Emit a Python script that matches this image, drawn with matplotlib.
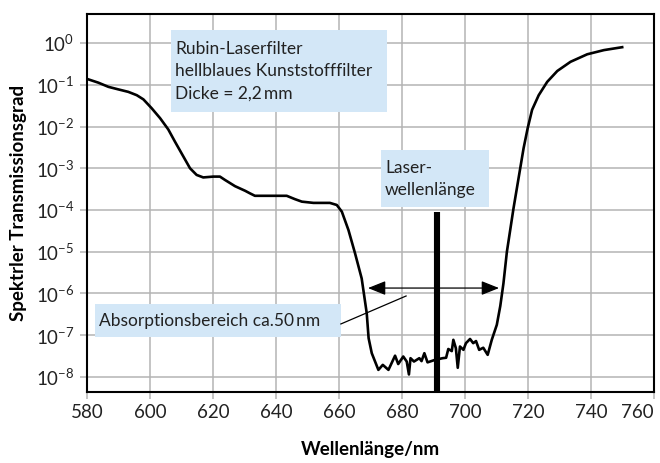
import numpy as np
import matplotlib.pyplot as plt
from matplotlib.patches import FancyArrowPatch

plt.rcParams['font.family'] = ['Lato', 'DejaVu Sans']
plt.rcParams['mathtext.default'] = 'regular'

# Wellenlaenge [nm] und log10 der Transmission
wavelength = [580, 583.6, 586.8, 589.9, 593.1, 595.8, 597.9, 600.5, 603.2, 605.8,
              607.9, 610.6, 612.7, 614.8, 616.9, 620.1, 622.2, 623.8, 627, 630.2,
              631.7, 633.3, 639.2, 643.4, 646, 648.2, 651.9, 657.1, 659.3, 660.9,
              663, 665.1, 667.2, 668.8, 669.4, 670.4, 672.5, 673.9, 675.7, 677.8,
              678.8, 680.4, 681.5, 682.2, 682.7, 683.8, 685.5, 686.2, 687.1, 688.1,
              690.5, 692.9, 694.0, 694.7, 695.8, 696.3, 697.1, 697.7, 698.4, 699.5,
              700.3, 701.6, 702.6, 703.5, 704.5, 705.8, 707.2, 708.5, 710.1, 711.2,
              712.2, 713.3, 715.4, 717.0, 718.6, 719.9, 721.3, 723.4, 726.1, 729.3,
              733.5, 738.8, 744.1, 749.9]
log_trans = [-0.86, -0.95, -1.05, -1.11, -1.17, -1.25, -1.35, -1.56, -1.80, -2.07,
             -2.36, -2.72, -3.0, -3.16, -3.22, -3.20, -3.20, -3.28, -3.43, -3.54,
             -3.60, -3.66, -3.66, -3.66, -3.74, -3.80, -3.83, -3.83, -3.88, -4.04,
             -4.48, -5.04, -5.64, -6.47, -7.07, -7.43, -7.83, -7.71, -7.83, -7.49,
             -7.69, -7.51, -7.63, -7.94, -7.55, -7.63, -7.55, -7.62, -7.43, -7.65,
             -7.59, -7.55, -7.54, -7.33, -7.38, -7.11, -7.31, -7.78, -7.27, -7.35,
             -7.19, -7.09, -7.19, -7.14, -7.35, -7.30, -7.47, -7.11, -6.75, -6.3,
             -5.76, -5.0, -3.96, -3.24, -2.52, -2.04, -1.60, -1.25, -0.93, -0.67,
             -0.45, -0.27, -0.17, -0.10]

laser_nm = 691.1
laser_top = -4.05
arrow_nm = [669.2, 710.8]
arrow_log = -5.87

x_ticks = [580, 600, 620, 640, 660, 680, 700, 720, 740, 760]
y_exps = [0, -1, -2, -3, -4, -5, -6, -7, -8]

trans = 10 ** np.array(log_trans)

box_col = '#d3e7f7'
grid_col = '#b4b4b4'

fig = plt.figure(figsize=(6.6, 4.63), dpi=100)
ax = fig.add_axes([87 / 660, 71 / 463, 567 / 660, 378 / 463])
ax.set_yscale('log')
ax.set_xlim(580, 760)
ax.set_ylim(10 ** -8.36, 10 ** 0.695)

ax.set_xticks(x_ticks)
ax.set_xticklabels([str(v) for v in x_ticks])
ax.get_xticklabels()[-1].set_horizontalalignment('right')
ax.set_yticks([10.0 ** e for e in y_exps])
ax.set_yticklabels(['$10^{%d}$' % e for e in y_exps])
ax.minorticks_off()
ax.yaxis.set_minor_locator(plt.NullLocator())
ax.tick_params(direction='out', length=5, width=1.1, color=grid_col,
               labelsize=13.5, pad=4, labelcolor='#222222')
ax.grid(True, color=grid_col, linewidth=1.1)
ax.set_axisbelow(True)
for s in ax.spines.values():
    s.set_linewidth(1.5)
    s.set_color('black')

ax.plot(wavelength, trans, color='black', linewidth=1.9, solid_joinstyle='round', zorder=3)

# Laserwellenlaenge
ax.plot([laser_nm, laser_nm], [10 ** -8.36, 10 ** laser_top], color='black',
        linewidth=4.4, solid_capstyle='butt', zorder=4)

# Absorptionsbereich Pfeil
arr = FancyArrowPatch((arrow_nm[0], 10 ** arrow_log), (arrow_nm[1], 10 ** arrow_log),
                      arrowstyle='<|-|>,head_length=0.9,head_width=0.36',
                      color='black', linewidth=0.9, mutation_scale=12,
                      shrinkA=0, shrinkB=0, zorder=5)
ax.add_patch(arr)
ax.plot([660.6, 681.3], [10 ** -6.73, 10 ** -6.06], color='black', linewidth=0.9, zorder=5)

# Textboxen
ax.add_patch(plt.Rectangle((606.6, 10 ** -1.65), 68.6, 10 ** 0.31 - 10 ** -1.65,
                           color=box_col, zorder=2, linewidth=0))
ax.text(607.9, 10 ** 0.06, 'Rubin-Laserfilter\nhellblaues Kunststofffilter\nDicke = 2,2\u2009mm',
        fontsize=12.5, va='top', ha='left', linespacing=1.5, color='#222222', zorder=3)

ax.add_patch(plt.Rectangle((673.3, 10 ** -3.93), 34.3, 10 ** -2.56 - 10 ** -3.93,
                           color=box_col, zorder=2, linewidth=0))
ax.text(674.6, 10 ** -2.80, 'Laser-\nwellenlänge', fontsize=12.5, va='top', ha='left',
        linespacing=1.5, color='#222222', zorder=3)

ax.add_patch(plt.Rectangle((582.5, 10 ** -7.04), 78.1, 10 ** -6.25 - 10 ** -7.04,
                           color=box_col, zorder=2, linewidth=0))
ax.text(583.7, 10 ** -6.65, 'Absorptionsbereich ca.50\u2009nm', fontsize=12.5,
        va='center', ha='left', color='#222222', zorder=3)

ax.set_xlabel('Wellenlänge/nm', fontsize=13.5, fontweight='bold', labelpad=14)
ax.set_ylabel('Spektrler Transmissionsgrad', fontsize=13.5, fontweight='bold', labelpad=6)

plt.savefig('out.png', dpi=100)
